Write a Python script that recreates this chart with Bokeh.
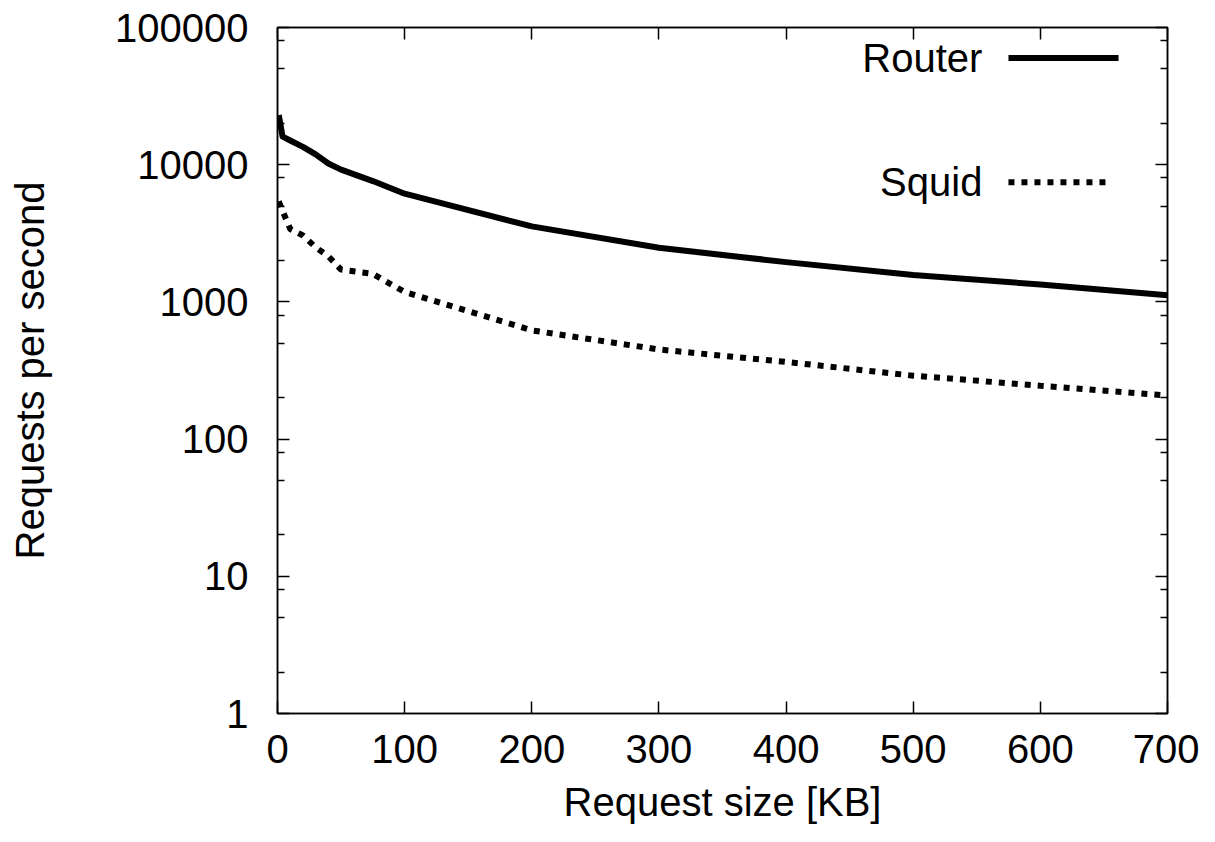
from bokeh.plotting import figure
from bokeh.models import FixedTicker, LogAxis, LinearAxis, Label, ColumnDataSource, Range1d
from bokeh.embed import file_html
from bokeh.resources import INLINE

# ---- data ----
request_kb = [1, 4, 10, 20, 30, 40, 50, 75, 100, 200, 300, 400, 500, 600, 700]
router_rps = [23000, 16000, 15000, 13500, 11900, 10200, 9200, 7600, 6150, 3550, 2480, 1950, 1570, 1340, 1120]
squid_rps = [5400, 4600, 3400, 3050, 2500, 2150, 1720, 1600, 1180, 620, 450, 365, 290, 245, 208]

x_ticks = [0, 100, 200, 300, 400, 500, 600, 700]
y_ticks = [1, 10, 100, 1000, 10000, 100000]
y_tick_labels = ["1", "10", "100", "1000", "10000", "100000"]
y_minor_ticks = [m * 10 ** d for d in range(5) for m in (2, 5, 8)]

series_names = ["Router", "Squid"]

FONT = "Liberation Sans"
FS = "40px"
X0, X1 = 0, 700
Y0, Y1 = 1, 100000

p = figure(width=1199, height=826,
           x_range=Range1d(X0, X1), y_range=Range1d(Y0, Y1),
           y_axis_type="log", output_backend="svg", toolbar_location=None,
           min_border_left=277, min_border_right=32, min_border_top=27, min_border_bottom=111)
p.xgrid.visible = False
p.ygrid.visible = False
p.outline_line_color = "black"
p.outline_line_width = 1.5
p.background_fill_color = "white"
p.border_fill_color = "white"

xt = FixedTicker(ticks=x_ticks, minor_ticks=[])
yt = FixedTicker(ticks=y_ticks, minor_ticks=y_minor_ticks)

def style_axis(ax, labels=True):
    ax.axis_line_color = "black"
    ax.axis_line_width = 1.5
    ax.major_tick_in = 12
    ax.major_tick_out = 0
    ax.minor_tick_in = 7
    ax.minor_tick_out = 0
    ax.major_tick_line_width = 1.5
    ax.minor_tick_line_width = 1.5
    ax.major_tick_line_color = "black"
    ax.minor_tick_line_color = "black"
    ax.major_label_text_font = FONT
    ax.major_label_text_color = "black"
    if labels:
        ax.major_label_text_font_size = FS
    else:
        ax.major_label_text_font_size = "1px"
        ax.major_label_text_alpha = 0
        ax.major_label_standoff = 0

xa = p.below[0]
xa.ticker = xt
style_axis(xa)
xa.major_label_standoff = 21
xa.axis_label = "Request size [KB]"
xa.axis_label_text_font = FONT
xa.axis_label_text_font_size = FS
xa.axis_label_text_font_style = "normal"
xa.axis_label_text_color = "black"
xa.axis_label_standoff = 14

ya = p.left[0]
ya.ticker = yt
style_axis(ya)
ya.major_label_standoff = 29
ya.major_label_overrides = {t: l for t, l in zip(y_ticks, y_tick_labels)}
ya.axis_label = "Requests per second"
ya.axis_label_text_font = FONT
ya.axis_label_text_font_size = FS
ya.axis_label_text_font_style = "normal"
ya.axis_label_text_color = "black"
ya.axis_label_standoff = 60

ra = LogAxis(ticker=yt)
style_axis(ra, labels=False)
p.add_layout(ra, "right")
ta = LinearAxis(ticker=xt)
style_axis(ta, labels=False)
p.add_layout(ta, "above")

src = ColumnDataSource(dict(x=request_kb, router=router_rps, squid=squid_rps))
p.line("x", "router", source=src, line_color="black", line_width=6, line_join="round")
p.line("x", "squid", source=src, line_color="black", line_width=6, line_dash="6 7")

# ---- legend (label left, sample right), placed by frame fractions ----
def fx(f):
    return X0 + f * (X1 - X0)

def fy(f_from_top):
    return 10 ** (5 * (1 - f_from_top))

leg_rows = [(0.0446, "solid", 0.945), (0.2257, "6 7", 0.938)]
for name, (ry, dash, xe) in zip(series_names, leg_rows):
    p.add_layout(Label(x=fx(0.792), y=fy(ry), text=name, text_align="right",
                       text_baseline="middle", text_font=FONT, text_font_size=FS,
                       text_color="black"))
    lsrc = ColumnDataSource(dict(x=[fx(0.8213), fx(xe)], y=[fy(ry), fy(ry)]))
    p.line("x", "y", source=lsrc, line_color="black", line_width=6, line_dash=dash)

open("out.html", "w").write(file_html(p, INLINE))
